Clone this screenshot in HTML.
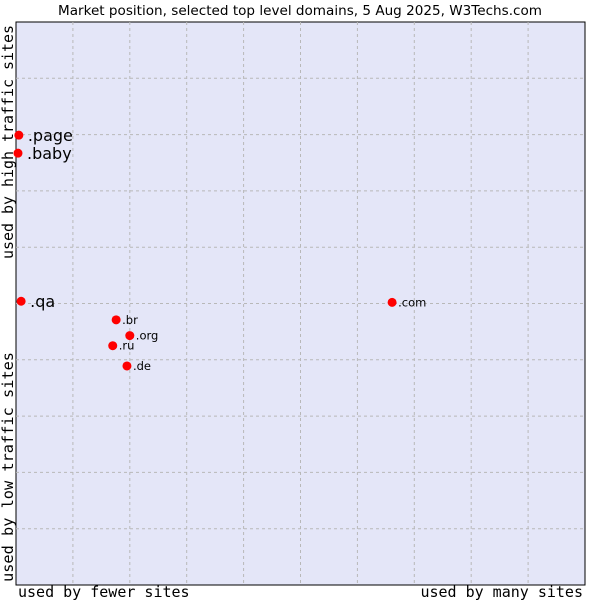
<!DOCTYPE html>
<html><head><meta charset="utf-8"><style>
body{margin:0;background:#fff;}
svg{display:block;font-family:"DejaVu Sans","Liberation Sans",sans-serif;}
.ax{font-family:"DejaVu Sans Mono","Liberation Mono",monospace;font-size:15px;fill:#000;}
</style></head><body>
<svg id="chart" width="600" height="600">
<text x="58" y="15" textLength="484" lengthAdjust="spacingAndGlyphs" font-size="13">Market position, selected top level domains, 5 Aug 2025, W3Techs.com</text>
<rect x="16" y="22" width="569" height="563" fill="#e4e6f8" stroke="#000" stroke-width="1"/>
<g id="grid"></g>
<g id="pts"></g>
<text class="ax" x="18" y="597">used by fewer sites</text>
<text class="ax" x="583" y="597" text-anchor="end">used by many sites</text>
<text class="ax" transform="translate(13,259) rotate(-90)" textLength="234" lengthAdjust="spacingAndGlyphs">used by high traffic sites</text>
<text class="ax" transform="translate(13,582) rotate(-90)" textLength="230" lengthAdjust="spacingAndGlyphs">used by low traffic sites</text>
</svg>
<script>
const labels=[".page",".baby",".qa",".com",".br",".org",".ru",".de"];
const xs=[0.5,0.35,0.9,66.1,17.6,20.0,17.0,19.5];
const ys=[79.9,76.7,50.4,50.2,47.1,44.3,42.5,38.9];
const big=[true,true,true,false,false,false,false,false];
const NS="http://www.w3.org/2000/svg";
const L=16,T=22,W=569,H=563;
const sx=v=>L+v/100*W, sy=v=>T+H-v/100*H;
const g=document.getElementById('grid');
for(let i=1;i<10;i++){
 const a=document.createElementNS(NS,'line');
 a.setAttribute('x1',sx(i*10));a.setAttribute('x2',sx(i*10));a.setAttribute('y1',T);a.setAttribute('y2',T+H);
 a.setAttribute('stroke','#b8b8b8');a.setAttribute('stroke-dasharray','3,3');
 
 
 g.appendChild(a);
 const b=document.createElementNS(NS,'line');
 b.setAttribute('y1',sy(i*10));b.setAttribute('y2',sy(i*10));b.setAttribute('x1',L);b.setAttribute('x2',L+W);
 b.setAttribute('stroke','#b8b8b8');b.setAttribute('stroke-dasharray','3,3');
 
 
 g.appendChild(b);
}
const p=document.getElementById('pts');
labels.forEach((lb,i)=>{
 const x=sx(xs[i]),y=sy(ys[i]);
 const c=document.createElementNS(NS,'circle');
 c.setAttribute('cx',x);c.setAttribute('cy',y);c.setAttribute('r',4.5);c.setAttribute('fill','#ff0000');
 
 
 p.appendChild(c);
 const t=document.createElementNS(NS,'text');
 t.setAttribute('x',x+(big[i]?9:6));t.setAttribute('y',y+(big[i]?6:4));
 t.setAttribute('font-size',big[i]?16:11.5);
 t.textContent=lb;
 
 
 p.appendChild(t);
});
</script>
</body></html>
